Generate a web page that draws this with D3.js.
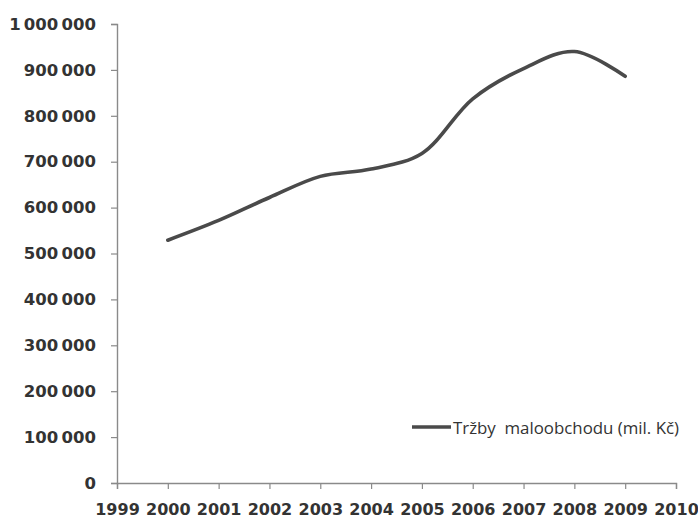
<!DOCTYPE html>
<html><head><meta charset="utf-8">
<script src="https://cdn.jsdelivr.net/npm/d3@7"></script>
<style>body{margin:0;background:#fff}svg{display:block}</style>
</head><body>
<svg id="c" width="698" height="519"></svg>
<script>
const years = [2000,2001,2002,2003,2004,2005,2006,2007,2008,2009];
const sales = [529000,572000,622000,668000,684000,718000,837000,903000,940000,886000];
const xTicks = [1999,2000,2001,2002,2003,2004,2005,2006,2007,2008,2009,2010];
const yTicks = [0,100000,200000,300000,400000,500000,600000,700000,800000,900000,1000000];
const seriesName = "Tržby  maloobchodu (mil. Kč)";

const svg = d3.select("#c");
const x = d3.scaleLinear().domain([1999,2010]).range([117,676]);
const y = d3.scaleLinear().domain([0,1000000]).range([483,24]);
const loc = d3.formatLocale({decimal:",",thousands:"\u2009",grouping:[3],currency:["",""]});
const fmt = v => loc.format(",")(v).replace(/\u2009/g," ");
const numFont = "'DejaVu Sans', sans-serif";

const yAxis = svg.append("g").attr("transform","translate(117,0)")
  .call(d3.axisLeft(y).tickValues(yTicks).tickFormat(fmt).tickSize(6).tickPadding(15));
const xAxis = svg.append("g").attr("transform","translate(0,483)")
  .call(d3.axisBottom(x).tickValues(xTicks).tickFormat(d3.format("d")).tickSize(6));
[yAxis,xAxis].forEach(a=>{
  a.select("path.domain").attr("stroke","#8a8a8a").attr("stroke-width",1.4);
  a.selectAll(".tick line").attr("stroke","#8a8a8a").attr("stroke-width",1.2);
  a.selectAll("text").attr("fill","#333").style("font-family",numFont)
    .style("font-weight","bold").style("word-spacing","-2.5px");
});
yAxis.selectAll("text").style("font-size","16.5px");
xAxis.selectAll("text").style("font-size","16px").attr("y",31.5).attr("dy",0);

const line = d3.line().x((d,i)=>x(years[i])).y(d=>y(d)).curve(d3.curveCatmullRom.alpha(0.5));
svg.append("path").datum(sales).attr("d",line).attr("fill","none")
  .attr("stroke","#4a4a4a").attr("stroke-width",3.6).attr("stroke-linecap","round");

const lg = svg.append("g");
lg.append("line").attr("x1",412).attr("x2",451).attr("y1",427).attr("y2",427)
  .attr("stroke","#4a4a4a").attr("stroke-width",3.6);
lg.append("text").attr("x",453).attr("y",434).text(seriesName)
  .attr("fill","#333").style("font-family","'Open Sans', sans-serif").style("font-size","16px")
  .style("white-space","pre").attr("textLength",226).attr("lengthAdjust","spacingAndGlyphs");
</script>
</body></html>
